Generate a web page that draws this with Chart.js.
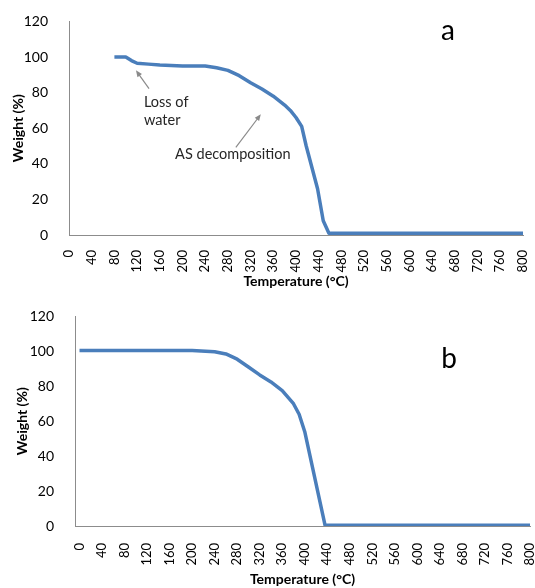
<!DOCTYPE html>
<html>
<head>
<meta charset="utf-8">
<script src="https://cdn.jsdelivr.net/npm/chart.js@4/dist/chart.umd.min.js"></script>
<style>
  html, body { margin: 0; padding: 0; background: #fff; }
  #wrap { position: relative; width: 535px; height: 588px; }
  canvas { position: absolute; left: 0; }
  #chartA { top: 0; }
  #chartB { top: 295px; }
</style>
</head>
<body>
<div id="wrap">
  <canvas id="chartA" width="535" height="290"></canvas>
  <canvas id="chartB" width="535" height="293"></canvas>
</div>
<script>
// tick labels
const tempTicks = [0, 40, 80, 120, 160, 200, 240, 280, 320, 360, 400, 440, 480, 520, 560, 600, 640, 680, 720, 760, 800];
const weightTicks = [0, 20, 40, 60, 80, 100, 120];

// panel a
const tempA = [80, 100, 110, 120, 140, 160, 200, 240, 260, 280, 300, 320, 340, 360, 380, 390, 400, 410, 418, 438, 448, 458, 800];
const weightA = [100, 100, 98, 96.5, 96, 95.5, 95, 95, 94, 92.5, 89.5, 85.5, 82, 78, 73, 70, 66, 61, 50, 26, 8, 1, 1];

// panel b
const tempB = [0, 200, 240, 260, 280, 300, 320, 340, 360, 380, 390, 400, 436, 800];
const weightB = [100.5, 100.5, 99.8, 98.5, 95.5, 91, 86.5, 82.5, 77.5, 70, 64, 54, 0.5, 0.5];

// annotations for panel a (temperature, weight)
const notesText = [
  { lines: ['Loss of', 'water'], t: 132, w: 74.5 },
  { lines: ['AS decomposition'], t: 187, w: 45.3 }
];
const notesArrows = [
  { from: [141, 82.2], to: [118, 92.5] },
  { from: [294, 49.2], to: [338, 67.8] }
];

const FONT = 'Lato, "Open Sans", sans-serif';
const BLUE = '#4a7ebb';
const AXIS = '#8c8c8c';

// draws the panel letter and the annotations
const notesPlugin = {
  id: 'notes',
  afterDatasetsDraw(chart, args, opts) {
    const ctx = chart.ctx;
    const x = chart.scales.x, y = chart.scales.y;
    ctx.save();
    ctx.fillStyle = '#000';
    ctx.font = '28px ' + FONT;
    ctx.textAlign = 'center';
    ctx.textBaseline = 'middle';
    ctx.fillText(opts.letter, opts.letterX, opts.letterY);

    if (opts.annotate) {
      ctx.font = '14.5px ' + FONT;
      ctx.fillStyle = '#262626';
      ctx.textAlign = 'left';
      notesText.forEach(n => {
        const px = x.getPixelForValue(n.t);
        let py = y.getPixelForValue(n.w);
        n.lines.forEach(line => {
          ctx.fillText(line, px, py);
          py += 18;
        });
      });
      ctx.strokeStyle = '#8a8a8a';
      ctx.fillStyle = '#8a8a8a';
      ctx.lineWidth = 1.2;
      notesArrows.forEach(a => {
        const x1 = x.getPixelForValue(a.from[0]), y1 = y.getPixelForValue(a.from[1]);
        const x2 = x.getPixelForValue(a.to[0]), y2 = y.getPixelForValue(a.to[1]);
        const ang = Math.atan2(y2 - y1, x2 - x1);
        ctx.beginPath();
        ctx.moveTo(x1, y1);
        ctx.lineTo(x2 - 4 * Math.cos(ang), y2 - 4 * Math.sin(ang));
        ctx.stroke();
        ctx.beginPath();
        ctx.moveTo(x2, y2);
        ctx.lineTo(x2 - 7 * Math.cos(ang - 0.4), y2 - 7 * Math.sin(ang - 0.4));
        ctx.lineTo(x2 - 7 * Math.cos(ang + 0.4), y2 - 7 * Math.sin(ang + 0.4));
        ctx.closePath();
        ctx.fill();
      });
    }
    ctx.restore();
  }
};

function makePanel(canvas, temps, weights, cfg) {
  const points = temps.map((t, i) => ({ x: t, y: weights[i] }));
  return new Chart(canvas, {
    type: 'line',
    data: {
      datasets: [{
        data: points,
        borderColor: BLUE,
        borderWidth: 3.5,
        borderJoinStyle: 'round',
        pointRadius: 0,
        tension: 0,
        fill: false
      }]
    },
    options: {
      responsive: false,
      animation: false,
      devicePixelRatio: 1,
      layout: { padding: { top: cfg.top, right: cfg.right, left: 0, bottom: 0 } },
      plugins: {
        legend: { display: false },
        tooltip: { enabled: false },
        notes: cfg.notes
      },
      scales: {
        x: {
          type: 'linear',
          min: cfg.xMin,
          max: 800,
          grid: { display: false },
          border: { display: true, color: AXIS, width: 1 },
          afterBuildTicks: s => { s.ticks = tempTicks.map(v => ({ value: v })); },
          afterFit: s => { s.height = cfg.xHeight; s.paddingLeft = 0; s.paddingRight = 0; },
          ticks: {
            autoSkip: false,
            maxRotation: 90,
            minRotation: 90,
            padding: cfg.xPad,
            color: '#000',
            font: { family: FONT, size: 13 }
          },
          title: {
            display: true,
            text: 'Temperature (°C)',
            color: '#000',
            font: { family: FONT, size: 14, weight: 'bold' },
            padding: { top: 0, bottom: cfg.xTitlePad }
          }
        },
        y: {
          min: 0,
          max: 120,
          grid: { display: false },
          border: { display: true, color: AXIS, width: 1 },
          afterBuildTicks: s => { s.ticks = weightTicks.map(v => ({ value: v })); },
          afterFit: s => { s.width = cfg.yWidth; },
          ticks: {
            padding: cfg.yPad,
            color: '#000',
            font: { family: FONT, size: 14 }
          },
          title: {
            display: true,
            text: 'Weight (%)',
            color: '#000',
            font: { family: FONT, size: 14, weight: 'bold' },
            padding: { top: cfg.yTitlePad, bottom: 0 }
          }
        }
      }
    },
    plugins: [notesPlugin]
  });
}

makePanel(document.getElementById('chartA'), tempA, weightA, {
  top: 17.5, right: 12, xMin: 0, xHeight: 55, xPad: 7, xTitlePad: 0,
  yWidth: 69, yPad: 13, yTitlePad: 10,
  notes: { letter: 'a', letterX: 448, letterY: 31, annotate: true }
});

makePanel(document.getElementById('chartB'), tempB, weightB, {
  top: 21, right: 5, xMin: -8, xHeight: 62, xPad: 9, xTitlePad: 0,
  yWidth: 75, yPad: 13, yTitlePad: 14.5,
  notes: { letter: 'b', letterX: 449, letterY: 64, annotate: false }
});
</script>
</body>
</html>
